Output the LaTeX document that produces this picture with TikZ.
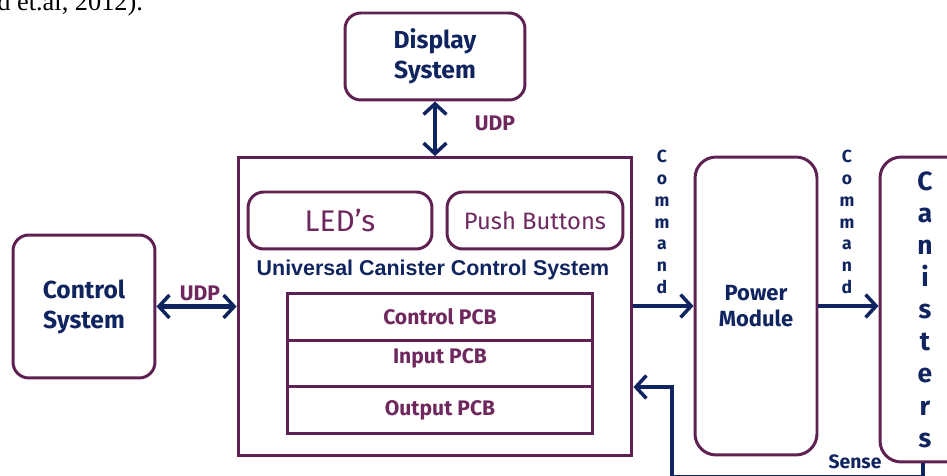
\documentclass[tikz,border=0pt]{standalone}
\usepackage{fontspec}
\usetikzlibrary{arrows.meta}
\newfontfamily\gill{Fira Sans}
\newfontfamily\arialbf{Liberation Sans}[BoldFont={Liberation Sans Bold}]
\newfontfamily\tnr{Liberation Serif}
\definecolor{plum}{RGB}{94,33,82}
\definecolor{plumtext}{RGB}{110,40,94}
\definecolor{navy}{RGB}{16,36,96}
\tikzset{
  barb/.tip={Straight Barb[length=6pt,width=13pt,line width=2pt]},
  box/.style={draw=plum, line width=1.7pt, rounded corners=9pt, fill=white},
  pcb/.style={draw=plum, line width=1.7pt, minimum width=6.12cm, minimum height=0.93cm},
  link/.style={draw=navy, line width=2.3pt, -barb},
  blue/.style={text=navy, font=\gill\bfseries\fontsize{14}{17}\selectfont, align=center},
  plumlbl/.style={text=plumtext, font=\gill\bfseries\fontsize{12}{14}\selectfont},
  vword/.style={text=navy, font=\gill\bfseries\fontsize{10}{12.4}\selectfont, align=center}
}
\begin{document}
\begin{tikzpicture}[x=0.02cm, y=-0.02cm]
  \useasboundingbox (0,0) rectangle (947,476);
  \node[anchor=base west, inner sep=0, font=\tnr\fontsize{15}{18}\selectfont] (cite) at (-3,11) {d et.al, 2012).};

  % blocks
  \node[box, blue, minimum width=3.6cm, minimum height=1.74cm] (disp) at (435,56.5) {Display\\System};
  \node[box, blue, minimum width=2.84cm, minimum height=2.86cm] (ctrl) at (84,306.5) {Control\\System};
  \node[draw=plum, line width=1.7pt, minimum width=7.88cm, minimum height=5.96cm] (uccs) at (435,306.5) {};
  \node[box, text=plumtext, font=\gill\fontsize{17}{20}\selectfont, minimum width=3.68cm, minimum height=1.14cm] (leds) at (340,220.5) {LED’s};
  \node[box, text=plumtext, font=\gill\fontsize{13.5}{16}\selectfont, minimum width=3.52cm, minimum height=1.14cm] (push) at (535,220.5) {Push Buttons};
  \node[text=navy, font=\arialbf\bfseries\fontsize{12.2}{14}\selectfont] (title) at (433,270) {Universal Canister Control System};
  \node[pcb, plumlbl] (cpcb) at (440,317) {Control PCB};
  \node[pcb, label={[plumlbl, anchor=north, yshift=-2pt]north:Input PCB}] (ipcb) at (440,363.5) {};
  \node[pcb, plumlbl] (opcb) at (440,410) {Output PCB};
  \node[box, blue, font=\gill\bfseries\fontsize{12.5}{15}\selectfont, rounded corners=12pt, minimum width=2.44cm, minimum height=5.96cm] (power) at (756,306) {Power\\Module};
  \node[box, blue, font=\gill\bfseries\fontsize{15}{18.3}\selectfont, rounded corners=12pt, minimum width=1.8cm, minimum height=6.1cm] (cans) at (925,309.5) {C\\a\\n\\i\\s\\t\\e\\r\\s};

  % connectors
  \draw[link, barb-barb] (disp) -- (uccs);
  \node[plumlbl] (udp1) at (495,123) {UDP};
  \draw[link, barb-barb] (ctrl) -- (uccs);
  \node[plumlbl] (udp2) at (200,293) {UDP};
  \draw[link] (uccs.east |- power) -- (power);
  \node[vword] (cmd1) at (662,222) {C\\o\\m\\m\\a\\n\\d};
  \draw[link] (power.east) -- (power.east -| cans.west);
  \node[vword] (cmd2) at (847,222) {C\\o\\m\\m\\a\\n\\d};

  % sense feedback
  \coordinate (sdown) at (923,477);
  \coordinate (sup) at (672,477);
  \coordinate (sin) at (672,387);
  \draw[link] (cans.south -| sdown) -- (sdown) -- (sup) -- (sin) -- (sin -| uccs.east);
  \node[text=navy, font=\gill\bfseries\fontsize{11}{13}\selectfont] (sense) at (855,462) {Sense};
\end{tikzpicture}
\end{document}
